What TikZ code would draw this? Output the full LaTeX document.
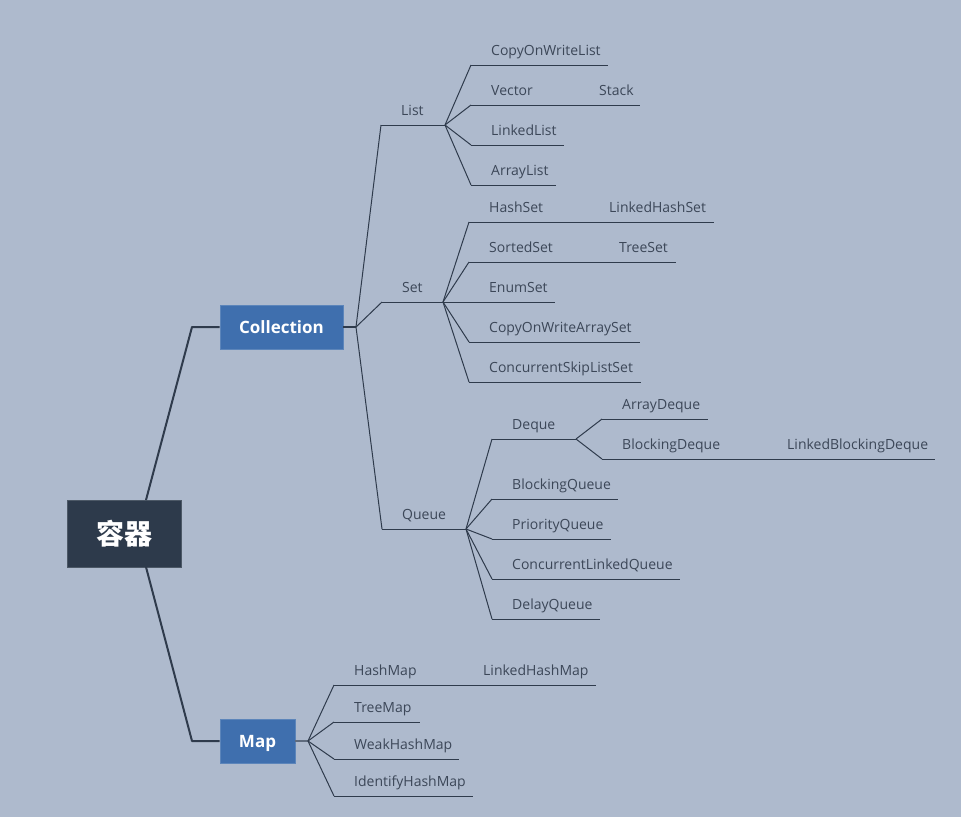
\documentclass[tikz,border=0pt]{standalone}
\usepackage{fontspec}
\setmainfont{Open Sans}
\newfontfamily\cjk{Noto Sans CJK SC}
\definecolor{bgc}{HTML}{AEBACD}
\definecolor{lnc}{HTML}{2F3B4C}
\definecolor{rootc}{HTML}{2D3A4B}
\definecolor{bluec}{HTML}{3F6FAE}
\definecolor{txtc}{HTML}{3C4758}
\definecolor{lgc}{HTML}{5F6B7D}
\newcommand{\tpc}[5]{%
  \coordinate (#1-a) at (#2,#4);
  \coordinate (#1-b) at (#3,#4);
  \node[sub] (#1) at ({#2+20},{#4-10}) {#5};
  \draw[ul] (#1-a) -- (#1-b);
}
\tikzset{
  sub/.style={font=\fontsize{14}{16}\selectfont, text=txtc, inner sep=0pt, anchor=base west},
  ul/.style={draw=lnc, line width=1pt},
  conn/.style={draw=lnc, line width=1pt},
  rootconn/.style={draw=lnc, line width=2pt},
  mainbox/.style={rectangle, fill=bluec, draw=bluec!85!white, line width=0.6pt, text=white,
    font=\bfseries\fontsize{17}{20}\selectfont, inner sep=0pt, minimum height=44pt,
    text height=12pt, text depth=0pt},
  rootbox/.style={rectangle, fill=rootc, draw=rootc!85!white, line width=0.8pt, text=white,
    font=\cjk\bfseries\fontsize{28}{32}\selectfont, inner sep=0pt, minimum width=114pt,
    minimum height=67pt, text height=23pt, text depth=2pt},
}
\begin{document}
\begin{tikzpicture}[x=1pt,y=-1pt]
\useasboundingbox (0,0) rectangle (961,817);
\fill[bgc] (0,0) rectangle (961,817);

% root and main topics
\node[rootbox] (root) at (124,533.5) {容器};
\node[mainbox, minimum width=123pt] (coll) at (281.5,327) {Collection};
\node[mainbox, minimum width=75pt] (map) at (257.5,741) {Map};

\coordinate (r-top) at (146,500);
\coordinate (r-bot) at (146,567);
\coordinate (c-elbow) at (192,327);
\coordinate (m-elbow) at (192,741);
\draw[rootconn, line join=round] (r-top) -- (c-elbow) -- (coll.west);
\draw[rootconn, line join=round] (r-bot) -- (m-elbow) -- (map.west);

\coordinate (cj) at (356,327);
\coordinate (mj) at (308,741);
\draw[draw=lnc, line width=1.3pt] (coll.east) -- (cj);
\draw[draw=lgc, line width=1.6pt] (map.east) -- (mj);

% level 1 under Collection
\tpc{list}{381}{445}{125}{List}
\tpc{set}{382}{443}{302}{Set}
\tpc{queue}{382}{466}{529}{Queue}
\draw[conn] (cj) -- (list-a);
\draw[conn] (cj) -- (set-a);
\draw[conn] (cj) -- (queue-a);

% List children
\tpc{cowl}{471}{608}{65}{CopyOnWriteList}
\tpc{vec}{471}{553}{105}{Vector}
\tpc{stack}{579}{640}{105}{Stack}
\tpc{ll}{471}{564}{145}{LinkedList}
\tpc{al}{471}{556}{185}{ArrayList}
\draw[conn] (list-b) -- (cowl-a);
\draw[conn] (list-b) -- (vec-a);
\draw[conn] (list-b) -- (ll-a);
\draw[conn] (list-b) -- (al-a);
\draw[conn] (vec-b) -- (stack-a);

% Set children
\tpc{hs}{469}{564}{222}{HashSet}
\tpc{lhs}{589}{714}{222}{LinkedHashSet}
\tpc{ss}{469}{574}{262}{SortedSet}
\tpc{ts}{599}{676}{262}{TreeSet}
\tpc{es}{469}{555}{302}{EnumSet}
\tpc{cowas}{469}{640}{342}{CopyOnWriteArraySet}
\tpc{csls}{469}{641}{382}{ConcurrentSkipListSet}
\draw[conn] (set-b) -- (hs-a);
\draw[conn] (set-b) -- (ss-a);
\draw[conn] (set-b) -- (es-a);
\draw[conn] (set-b) -- (cowas-a);
\draw[conn] (set-b) -- (csls-a);
\draw[conn] (hs-b) -- (lhs-a);
\draw[conn] (ss-b) -- (ts-a);

% Queue children
\tpc{dq}{492}{576}{439}{Deque}
\tpc{ad}{602}{708}{419}{ArrayDeque}
\tpc{bd}{602}{741}{459}{BlockingDeque}
\tpc{lbd}{767}{935}{459}{LinkedBlockingDeque}
\tpc{bq}{492}{618}{499}{BlockingQueue}
\tpc{pq}{492}{611}{539}{PriorityQueue}
\tpc{clq}{492}{680}{579}{ConcurrentLinkedQueue}
\tpc{dlq}{492}{600}{619}{DelayQueue}
\draw[conn] (queue-b) -- (dq-a);
\draw[conn] (queue-b) -- (bq-a);
\draw[conn] (queue-b) -- (pq-a);
\draw[conn] (queue-b) -- (clq-a);
\draw[conn] (queue-b) -- (dlq-a);
\draw[conn] (dq-b) -- (ad-a);
\draw[conn] (dq-b) -- (bd-a);
\draw[conn] (bd-b) -- (lbd-a);

% Map children
\tpc{hm}{334}{436}{685}{HashMap}
\tpc{lhm}{463}{596}{685}{LinkedHashMap}
\tpc{tm}{334}{420}{722}{TreeMap}
\tpc{whm}{334}{459}{759}{WeakHashMap}
\tpc{ihm}{334}{473}{796}{IdentifyHashMap}
\draw[conn] (mj) -- (hm-a);
\draw[conn] (mj) -- (tm-a);
\draw[conn] (mj) -- (whm-a);
\draw[conn] (mj) -- (ihm-a);
\draw[conn] (hm-b) -- (lhm-a);
\end{tikzpicture}
\end{document}
